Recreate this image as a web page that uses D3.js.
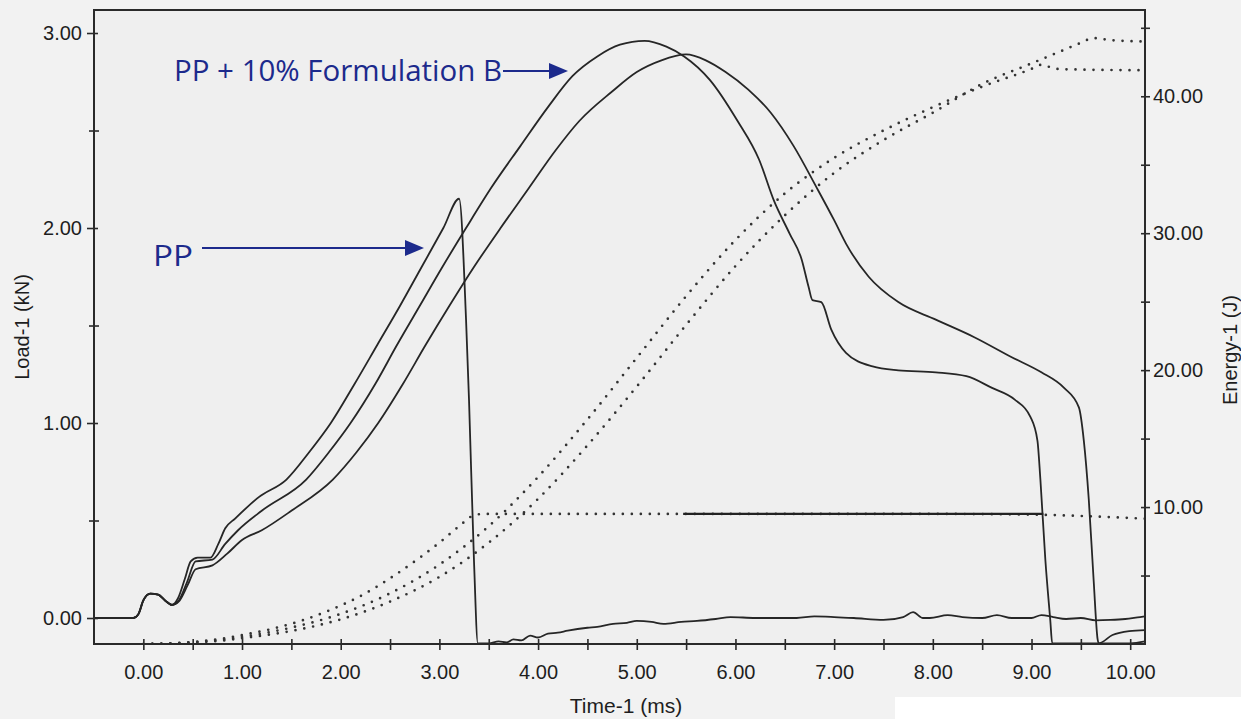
<!DOCTYPE html>
<html><head><meta charset="utf-8">
<script src="https://cdn.jsdelivr.net/npm/d3@7/dist/d3.min.js"></script>
<style>
html,body{margin:0;padding:0;background:#f1f1f1;}
svg{display:block;}
text{font-family:"Liberation Sans",Arial,sans-serif;}
</style></head>
<body>
<svg id="chart" width="1241" height="719"></svg>
<script>
// ---------- DATA ----------
const timeTickValues = [0,1,2,3,4,5,6,7,8,9,10];
const timeMinorTicks = [0.5,1.5,2.5,3.5,4.5,5.5,6.5,7.5,8.5,9.5];
const loadTickValues = [0,1,2,3];
const loadMinorTicks = [0.5,1.5,2.5];
const energyTickValues = [10,20,30,40];
const energyMinorTicks = [5,15,25,35,45];

// Load curves (time ms, load kN)
const ppTime = [-0.5,-0.1,-0.05,0.0,0.07,0.15,0.22,0.29,0.35,0.42,0.48,0.55,0.68,0.76,0.83,0.93,1.17,1.45,1.68,1.9,2.14,2.37,2.6,2.82,3.04,3.2,3.27,3.3,3.35,3.39,3.5,3.6,3.68,3.75,3.83,3.92,4.0,4.1,4.2,4.3,4.5,4.6,4.76,4.9,5.0,5.15,5.27,5.45,5.61,5.8,5.95,6.2,6.45,6.62,6.8,7.0,7.2,7.5,7.7,7.8,7.9,7.97,8.15,8.3,8.5,8.65,8.8,9.0,9.1,9.22,9.35,9.5,9.65,9.8,9.95,10.1,10.15];
const ppLoad = [0,0,0.02,0.09,0.125,0.12,0.09,0.067,0.1,0.2,0.29,0.31,0.31,0.38,0.46,0.51,0.62,0.71,0.85,1.0,1.2,1.4,1.6,1.8,2.0,2.15,1.53,1.12,0.3,-0.13,-0.13,-0.12,-0.125,-0.11,-0.115,-0.09,-0.1,-0.08,-0.075,-0.065,-0.05,-0.045,-0.03,-0.025,-0.015,-0.02,-0.03,-0.02,-0.015,-0.005,0.005,0.0,0.0,0.0,0.008,0.005,0.0,-0.01,0.005,0.03,0.0,0.0,0.015,0.005,0.0,0.015,0.0,0.0,0.015,0.005,-0.005,0.0,-0.012,-0.01,-0.005,0.005,0.008];

const bTime = [-0.5,-0.1,-0.05,0.0,0.07,0.15,0.22,0.29,0.36,0.44,0.53,0.7,0.83,0.96,1.2,1.65,1.88,2.1,2.35,2.57,2.8,3.03,3.27,3.53,3.82,4.1,4.35,4.6,4.83,5.08,5.3,5.48,5.74,6.02,6.24,6.39,6.55,6.67,6.74,6.78,6.87,6.97,7.12,7.39,7.65,8.03,8.34,8.6,8.83,8.99,9.06,9.09,9.14,9.19,9.21,10.0,10.15];
const bLoad = [0,0,0.02,0.09,0.125,0.12,0.09,0.067,0.09,0.18,0.29,0.30,0.38,0.45,0.55,0.71,0.85,1.0,1.2,1.4,1.6,1.8,2.0,2.21,2.42,2.62,2.78,2.88,2.94,2.96,2.93,2.88,2.76,2.55,2.35,2.14,1.97,1.84,1.70,1.63,1.62,1.48,1.36,1.29,1.27,1.26,1.24,1.18,1.12,1.03,0.91,0.71,0.30,-0.01,-0.13,-0.13,-0.12];

const cTime = [-0.5,-0.1,-0.05,0.0,0.07,0.15,0.22,0.29,0.36,0.45,0.53,0.7,0.85,1.0,1.2,1.5,1.92,2.16,2.38,2.63,2.86,3.1,3.35,3.62,3.9,4.18,4.42,4.75,5.0,5.25,5.5,5.7,5.9,6.13,6.36,6.59,6.82,7.0,7.12,7.35,7.65,8.03,8.42,8.79,9.1,9.33,9.48,9.53,9.58,9.63,9.67,9.68,9.82,9.99,10.15];
const cLoad = [0,0,0.02,0.09,0.125,0.12,0.09,0.067,0.085,0.17,0.25,0.27,0.33,0.40,0.45,0.55,0.71,0.85,1.0,1.2,1.4,1.6,1.8,2.0,2.2,2.4,2.55,2.7,2.8,2.86,2.89,2.86,2.80,2.71,2.59,2.42,2.21,2.04,1.92,1.75,1.62,1.53,1.44,1.34,1.26,1.18,1.08,0.91,0.61,0.19,-0.11,-0.13,-0.087,-0.067,-0.062];

// Energy curves (time ms, energy J)
const ppEnergyTime = [0,0.3,0.5,0.8,1.0,1.3,1.6,1.9,2.2,2.5,2.8,3.0,3.2,3.35,3.45,4.0,5.0,6.0,7.0,8.0,9.0,9.5,10.15];
const ppEnergy = [0,0.05,0.15,0.4,0.65,1.1,1.7,2.5,3.5,4.8,6.3,7.4,8.6,9.4,9.5,9.5,9.5,9.5,9.5,9.5,9.45,9.35,9.15];
const bEnergyTime = [0,0.3,0.5,0.8,1.0,1.5,2.0,2.5,3.0,3.5,4.0,4.5,5.0,5.5,6.0,6.5,7.0,7.5,8.0,8.5,9.0,9.1,9.25,9.5,10.15];
const bEnergy = [0,0.04,0.12,0.32,0.52,1.2,2.2,3.7,5.8,8.6,12.2,16.4,20.9,25.4,29.5,32.9,35.5,37.5,39.2,40.7,42.0,42.3,42.0,41.95,41.9];
const cEnergyTime = [0,0.3,0.5,0.8,1.0,1.5,2.0,2.5,3.0,3.5,4.0,4.5,5.0,5.5,6.0,6.5,7.0,7.5,8.0,8.5,9.0,9.3,9.5,9.63,9.8,10.15];
const cEnergy = [0,0.03,0.1,0.25,0.42,0.95,1.8,3.1,4.9,7.4,10.6,14.5,18.8,23.3,27.6,31.3,34.4,36.8,38.8,40.9,42.4,43.3,43.9,44.25,44.1,44.0];

// Solid marker segment on PP energy plateau
const markerTime = [5.47, 9.12];
const markerEnergy = [9.5, 9.5];

// Annotations
const annoLabels = ["PP + 10% Formulation B", "PP"];

// ---------- LAYOUT ----------
const svg = d3.select("#chart");
const L = 94, R = 1145, T = 10, B = 644;

const x = d3.scaleLinear().domain([-0.5, 10.15]).range([L, R]);
const yLoad = d3.scaleLinear().domain([-0.1333, 3.118]).range([B, T]);
const yEnergy = d3.scaleLinear().domain([0, 46.3]).range([B, T]);

svg.append("rect").attr("x",0).attr("y",0).attr("width",1241).attr("height",719).attr("fill","#f2f2f2");
svg.append("rect").attr("x",895).attr("y",697).attr("width",346).attr("height",22).attr("fill","#ffffff");
svg.append("rect").attr("x",L).attr("y",T).attr("width",R-L).attr("height",B-T).attr("fill","#efefef");

svg.append("defs").append("clipPath").attr("id","plotclip")
  .append("rect").attr("x",L).attr("y",T).attr("width",R-L).attr("height",B-T);

const plot = svg.append("g").attr("clip-path","url(#plotclip)");

const zipPts = (ts, vs) => ts.map((t,i)=>[t, vs[i]]);
const loadLine = d3.line().x(d=>x(d[0])).y(d=>yLoad(d[1])).curve(d3.curveMonotoneX);
const energyLine = d3.line().x(d=>x(d[0])).y(d=>yEnergy(d[1])).curve(d3.curveMonotoneX);

[[ppEnergyTime,ppEnergy],[bEnergyTime,bEnergy],[cEnergyTime,cEnergy]].forEach(([ts,vs])=>{
  plot.append("path").datum(zipPts(ts,vs))
    .attr("d", energyLine).attr("fill","none")
    .attr("stroke","#333").attr("stroke-width",2.7)
    .attr("stroke-linecap","round").attr("stroke-dasharray","0 9");
});
plot.append("path").datum(zipPts(markerTime, markerEnergy))
  .attr("d", d3.line().x(d=>x(d[0])).y(d=>yEnergy(d[1])))
  .attr("stroke","#222").attr("stroke-width",2.4).attr("fill","none");

[[ppTime,ppLoad],[bTime,bLoad],[cTime,cLoad]].forEach(([ts,vs])=>{
  plot.append("path").datum(zipPts(ts,vs))
    .attr("d", loadLine).attr("fill","none")
    .attr("stroke","#262626").attr("stroke-width",1.8).attr("stroke-linejoin","round");
});

// ---------- AXES ----------
const axisColor = "#2a2a2a";
const fmt = d3.format(".2f");
const labelSize = "20px";
function tidy(g, x1, x2, y1, y2){
  g.select(".domain").remove();
  const ln = g.selectAll(".tick line").attr("stroke",axisColor).attr("stroke-width",1.6);
  if (x1!==null) ln.attr("x1",x1).attr("x2",x2);
  if (y1!==null) ln.attr("y1",y1).attr("y2",y2);
  g.selectAll("text").attr("fill","#1e1e1e").style("font-size",labelSize);
}
tidy(svg.append("g").attr("transform",`translate(0,${B})`)
  .call(d3.axisBottom(x).tickValues(timeTickValues).tickFormat(fmt).tickSize(6).tickPadding(15)), null,null,-5,6);
tidy(svg.append("g").attr("transform",`translate(0,${B})`)
  .call(d3.axisBottom(x).tickValues(timeMinorTicks).tickFormat("").tickSize(6)), null,null,-5,6);
tidy(svg.append("g").attr("transform",`translate(${L},0)`)
  .call(d3.axisLeft(yLoad).tickValues(loadTickValues).tickFormat(fmt).tickSize(7).tickPadding(5)), 4,-7,null,null);
tidy(svg.append("g").attr("transform",`translate(${L},0)`)
  .call(d3.axisLeft(yLoad).tickValues(loadMinorTicks).tickFormat("").tickSize(6)), 5,-5,null,null);
tidy(svg.append("g").attr("transform",`translate(${R},0)`)
  .call(d3.axisRight(yEnergy).tickValues(energyTickValues).tickFormat(fmt).tickSize(5).tickPadding(3)), -4,5,null,null);
tidy(svg.append("g").attr("transform",`translate(${R},0)`)
  .call(d3.axisRight(yEnergy).tickValues(energyMinorTicks).tickFormat("").tickSize(5)), -4,5,null,null);

svg.append("rect").attr("x",L).attr("y",T).attr("width",R-L).attr("height",B-T)
  .attr("fill","none").attr("stroke",axisColor).attr("stroke-width",2);

svg.append("text").attr("x",626).attr("y",713).attr("text-anchor","middle")
  .style("font-size","21px").attr("fill","#1e1e1e").text("Time-1 (ms)");
svg.append("text").attr("transform",`translate(29,327) rotate(-90)`).attr("text-anchor","middle")
  .style("font-size","20px").attr("fill","#1e1e1e").text("Load-1 (kN)");
svg.append("text").attr("transform",`translate(1237,350) rotate(-90)`).attr("text-anchor","middle")
  .style("font-size","20px").attr("fill","#1e1e1e").text("Energy-1 (J)");

// ---------- ANNOTATIONS ----------
const blue = "#1c2a8c";
svg.append("text").attr("x",174).attr("y",81).attr("fill",blue)
  .attr("textLength",328).attr("lengthAdjust","spacingAndGlyphs")
  .style("font-family","'Open Sans','DejaVu Sans',sans-serif").style("font-size","29px")
  .text(annoLabels[0]);
svg.append("text").attr("x",153).attr("y",266).attr("fill",blue)
  .attr("textLength",40).attr("lengthAdjust","spacingAndGlyphs")
  .style("font-family","'Open Sans','DejaVu Sans',sans-serif").style("font-size","29px")
  .text(annoLabels[1]);
function arrow(x1, x2, yy){
  svg.append("line").attr("x1",x1).attr("x2",x2-16).attr("y1",yy).attr("y2",yy)
    .attr("stroke",blue).attr("stroke-width",2.2);
  svg.append("path").attr("d",`M${x2-19},${yy-8}L${x2},${yy}L${x2-19},${yy+8}Z`).attr("fill",blue);
}
arrow(503, 568, 71);
arrow(202, 424, 248);
</script>
</body></html>
